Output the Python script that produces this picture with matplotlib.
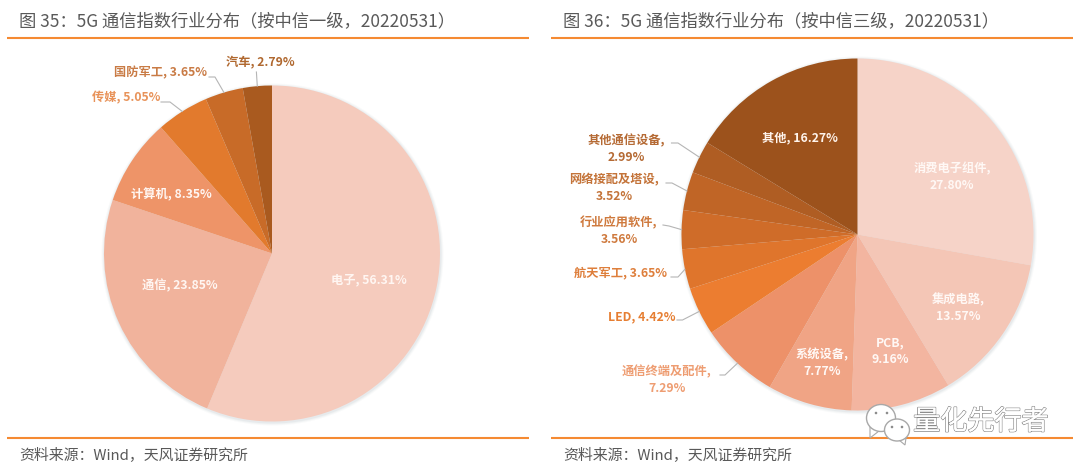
import numpy as np
import matplotlib
matplotlib.use('Agg')
import matplotlib.pyplot as plt
from matplotlib.patches import Circle, Ellipse, Polygon
import matplotlib.patheffects as pe

plt.rcParams['font.family'] = ['Noto Sans CJK SC', 'DejaVu Sans']

# data
left_names = ['电子', '通信', '计算机', '传媒', '国防军工', '汽车']
left_values = [56.31, 23.85, 8.35, 5.05, 3.65, 2.79]
left_colors = ['#F5CBBD', '#F1B39C', '#EE9468', '#E27A2D', '#C86B28', '#A95A1F']

right_names = ['消费电子组件', '集成电路', 'PCB', '系统设备', '通信终端及配件', 'LED',
               '航天军工', '行业应用软件', '网络接配及塔设', '其他通信设备', '其他']
right_values = [27.80, 13.57, 9.16, 7.77, 7.29, 4.42, 3.65, 3.56, 3.52, 2.99, 16.27]
right_colors = ['#F6D3C8', '#F4C6B6', '#F3B5A0', '#F0A485', '#ED9169', '#EC7D30',
                '#DF752C', '#CF6C29', '#C06526', '#AF5D23', '#9C521C']

left_title = '图 35：5G 通信指数行业分布（按中信一级，20220531）'
right_title = '图 36：5G 通信指数行业分布（按中信三级，20220531）'
source = '资料来源：Wind，天风证券研究所'

W, H = 1080, 471
ORANGE = '#F58A32'
GREY = '#595959'


def Y(py):
    return H - py


fig = plt.figure(figsize=(W / 100, H / 100), dpi=100)
ax = fig.add_axes([0, 0, 1, 1])


def draw_pie(values, colors, cx, cy, r):
    # soft shadow under the pie
    for grow, alpha in [(3.0, 0.05), (2.0, 0.07), (1.0, 0.10)]:
        ax.add_patch(Circle((cx + 0.5, Y(cy) - 1), r + grow, color='#8FA3A8', alpha=alpha, lw=0, zorder=1))
    wedges, _ = ax.pie(values, colors=colors, startangle=90, counterclock=False,
                       center=(cx, Y(cy)), radius=r, normalize=True,
                       wedgeprops={'linewidth': 0, 'zorder': 2})
    for w in wedges:
        w.set_zorder(2)
    return wedges


def leader(wedge, cx, cy, r, pts):
    # pts: start and elbow of the line in pixels, it ends on the slice edge
    mid = np.deg2rad((wedge.theta1 + wedge.theta2) / 2)
    xs = [p[0] for p in pts] + [cx + r * np.cos(mid)]
    ys = [Y(p[1]) for p in pts] + [Y(cy) + r * np.sin(mid)]
    ax.plot(xs, ys, color='#B5B5B5', lw=0.8, zorder=3)


def label(x, y, text, color):
    ax.text(x, Y(y), text, color=color, fontsize=8.8, fontweight='bold',
            ha='center', va='center', zorder=4, linespacing=1.38)


# left pie
LCX, LCY, LR = 272, 253.5, 168
lw_ = draw_pie(left_values, left_colors, LCX, LCY, LR)
left_pos = [(369, 280), (180, 286), (171, 195), (126, 98), (160, 73), (260, 63)]
left_text = ['#FFF6F2', '#FFF6F2', '#FFF6F2', '#E8935A', '#C97B45', '#B0682F']
for n, v, p, c in zip(left_names, left_values, left_pos, left_text):
    label(p[0], p[1], f'{n}, {v:.2f}%', c)
leader(lw_[3], LCX, LCY, LR, [(161, 102), (170, 102)])
leader(lw_[4], LCX, LCY, LR, [(209, 77), (215, 77)])
leader(lw_[5], LCX, LCY, LR, [(256.4, 72)])

# right pie
RCX, RCY, RR = 857.5, 234.5, 176
rw_ = draw_pie(right_values, right_colors, RCX, RCY, RR)
right_pos = [(952, 177), (958, 308), (890.5, 351), (822, 363), (667, 380), (642, 317),
             (620, 273), (619, 231), (614, 188), (626, 149), (799.5, 138)]
right_text = ['#FFF8F5', '#FFF8F5', '#FFF8F5', '#FFF8F5', '#EE9D72', '#E67E32',
              '#DE7F3C', '#CF7A3E', '#C4743A', '#B56A34', '#FFF4EC']
two_line = [True, True, True, True, True, False, False, True, True, True, False]
for n, v, p, c, two in zip(right_names, right_values, right_pos, right_text, two_line):
    sep = ',\n' if two else ', '
    label(p[0], p[1], f'{n}{sep}{v:.2f}%', c)
leader(rw_[4], RCX, RCY, RR, [(720, 375), (725, 375)])
leader(rw_[5], RCX, RCY, RR, [(677, 320), (682.5, 320)])
leader(rw_[6], RCX, RCY, RR, [(671, 277), (678, 277)])
leader(rw_[7], RCX, RCY, RR, [(663, 225), (669, 226)])
leader(rw_[8], RCX, RCY, RR, [(666, 183), (672, 183)])
leader(rw_[9], RCX, RCY, RR, [(671.5, 143), (678, 143)])

# titles, rules and source lines
for x0, x1, tx, title in [(7, 529, 19, left_title), (551, 1073, 563, right_title)]:
    ax.plot([x0, x1], [Y(37.5), Y(37.5)], color=ORANGE, lw=1.5, solid_capstyle='butt', zorder=5)
    ax.plot([x0, x1], [Y(437.8), Y(437.8)], color=ORANGE, lw=1.5, solid_capstyle='butt', zorder=5)
    ax.text(tx, Y(21), title, color=GREY, fontsize=12.45, fontweight='medium', ha='left', va='center', zorder=6)
    ax.text(tx, Y(456), source, color=GREY, fontsize=10.75, ha='left', va='center', zorder=6)

# wechat watermark
for (ex, ey, ew, eh) in [(881, 418, 29, 27), (897, 430, 25, 22)]:
    ax.add_patch(Ellipse((ex, Y(ey)), ew, eh, fc='white', ec='#A8A8A8', lw=1.0, zorder=7))
ax.add_patch(Polygon([(870, Y(427)), (870, Y(438)), (879, Y(431))], fc='white', ec='#A8A8A8', lw=0.8, zorder=6))
ax.add_patch(Polygon([(899, Y(440)), (905, Y(445)), (906, Y(438))], fc='white', ec='#A8A8A8', lw=0.8, zorder=6))
for (dx, dy) in [(876, 413), (887, 413), (892, 427), (902, 427)]:
    ax.add_patch(Circle((dx, Y(dy)), 1.3, fc='#8C8C8C', lw=0, zorder=8))
ax.text(981, Y(422), '量化先行者', color='white', fontsize=19.5, ha='center', va='center', zorder=8,
        path_effects=[pe.withStroke(linewidth=1.1, foreground='#8A8A8A'), pe.Normal()])

ax.set_xlim(0, W)
ax.set_ylim(0, H)
ax.set_aspect('auto')
ax.axis('off')

fig.savefig('out.png', dpi=100, facecolor='white')
